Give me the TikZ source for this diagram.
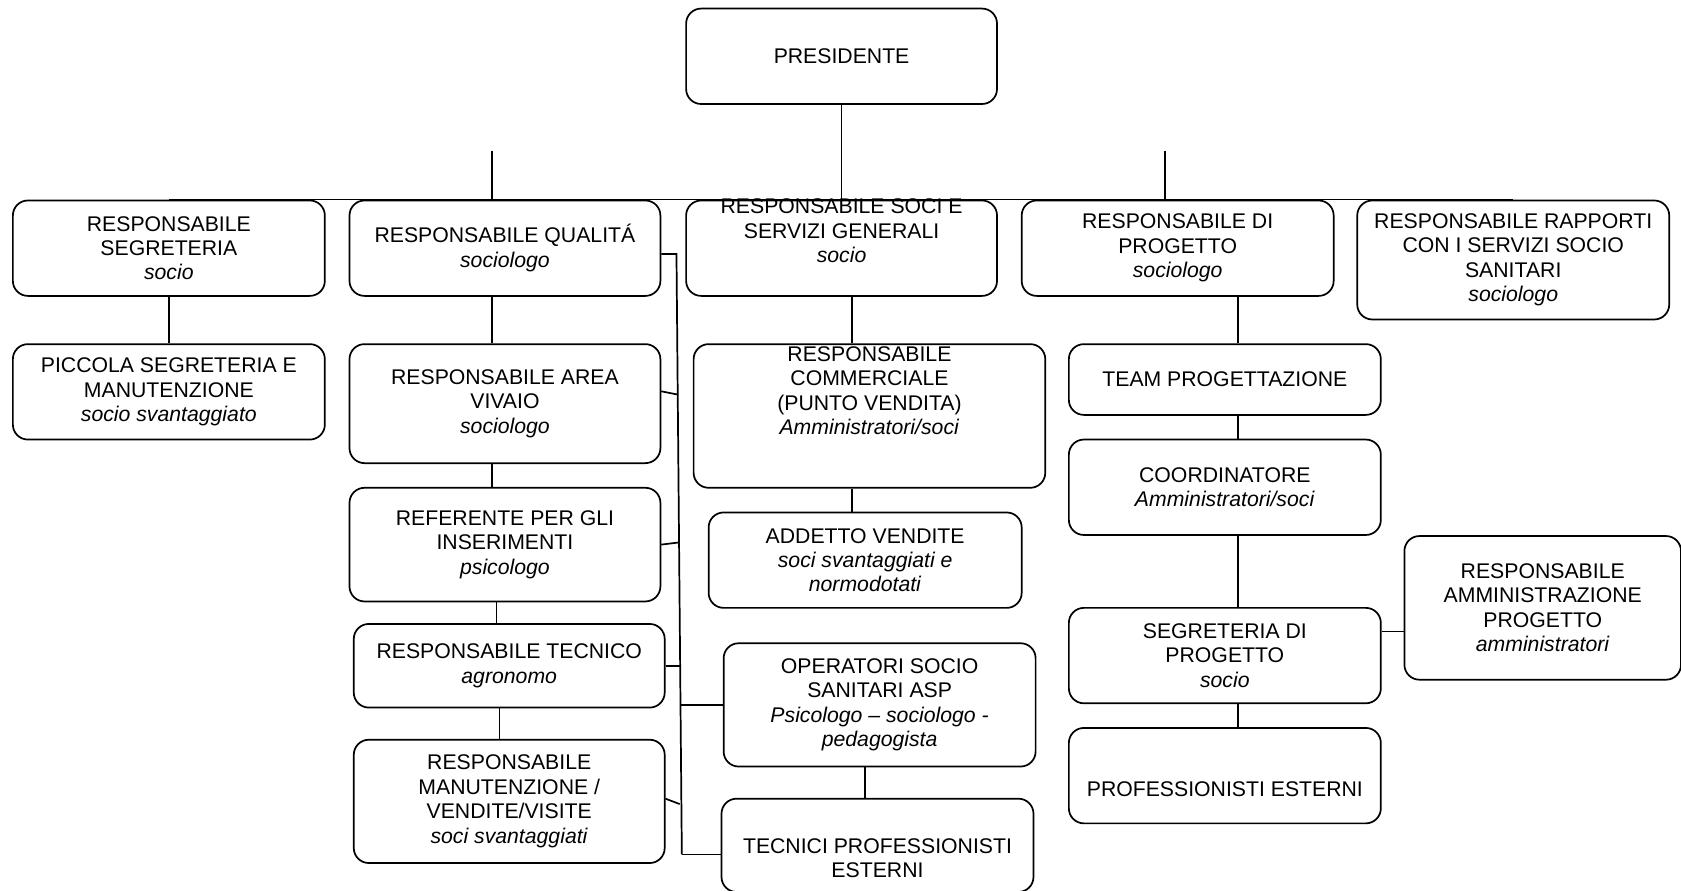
\documentclass[tikz,border=0pt]{standalone}
\usepackage{fontspec}
\setmainfont{Liberation Sans}
\usepackage{tikz}
\newcommand{\orgfont}{\fontsize{9.9pt}{11.4pt}\selectfont}
\tikzset{
  box/.style={draw, rounded corners=7pt, inner sep=0pt, align=center, font=\orgfont},
  txt/.style={inner sep=0pt, align=center, font=\orgfont}
}

\begin{document}
\begin{tikzpicture}[x=0.5pt, y=-0.5pt, line width=0.8pt]
  % margini (y verso il basso)
  \useasboundingbox (0,0) rectangle (1568,831);

  % presidente
  \node[box, minimum width=145pt, minimum height=44.5pt] (pres) at (785,52.5) {PRESIDENTE};

  % prima fila
  \node[box, minimum width=145.5pt, minimum height=44.5pt] (segr) at (157.5,231.5) {RESPONSABILE\\SEGRETERIA\\\textit{socio}};
  \node[box, minimum width=145pt, minimum height=44.5pt] (qual) at (471,231.5) {RESPONSABILE QUALITÁ\\\textit{sociologo}};
  \node[box, minimum width=145pt, minimum height=44.5pt] (soci) at (785,231.5) {};
  \node[txt] (socit) at ([yshift=8pt]soci.center) {RESPONSABILE SOCI E\\SERVIZI GENERALI\\\textit{socio}};
  \node[box, minimum width=145.5pt, minimum height=44.5pt] (prog) at (1098.5,231.5) {RESPONSABILE DI\\PROGETTO\\\textit{sociologo}};
  \node[box, minimum width=145.5pt, minimum height=55.5pt] (rapp) at (1411.5,242.5) {RESPONSABILE RAPPORTI\\CON I SERVIZI SOCIO\\SANITARI\\\textit{sociologo}};

  % colonna segreteria
  \node[box, minimum width=145.5pt, minimum height=44.5pt] (picc) at (157.5,365.5) {PICCOLA SEGRETERIA E\\MANUTENZIONE\\\textit{socio svantaggiato}};

  % colonna qualita
  \node[box, minimum width=145pt, minimum height=55.5pt] (viva) at (471,376.5) {RESPONSABILE AREA\\VIVAIO\\\textit{sociologo}};
  \node[box, minimum width=145pt, minimum height=53pt] (refe) at (471,508) {REFERENTE PER GLI\\INSERIMENTI\\\textit{psicologo}};
  \node[box, minimum width=145pt, minimum height=39pt] (tecn) at (475,621) {RESPONSABILE TECNICO\\\textit{agronomo}};
  \node[box, minimum width=145pt, minimum height=57.5pt] (manu) at (475,747.5) {RESPONSABILE\\MANUTENZIONE /\\VENDITE/VISITE\\\textit{soci svantaggiati}};

  % colonna soci e servizi
  \node[box, minimum width=164pt, minimum height=67pt] (comm) at (811,388) {};
  \node[txt] (commt) at ([yshift=11.75pt]comm.center) {RESPONSABILE\\COMMERCIALE\\(PUNTO VENDITA)\\\textit{Amministratori/soci}};
  \node[box, minimum width=146pt, minimum height=44.5pt] (addv) at (807,522.5) {ADDETTO VENDITE\\\textit{soci svantaggiati e}\\\textit{normodotati}};
  \node[box, minimum width=145.5pt, minimum height=57.5pt] (oper) at (820.5,657.5) {OPERATORI SOCIO\\SANITARI ASP\\\textit{Psicologo – sociologo -}\\\textit{pedagogista}};
  \node[box, minimum width=145.5pt, minimum height=43.5pt] (tecp) at (818.5,788.5) {};
  \node[txt] (tecpt) at ([yshift=-6pt]tecp.center) {TECNICI PROFESSIONISTI\\ESTERNI};

  % colonna progetto
  \node[box, minimum width=145.5pt, minimum height=33pt] (team) at (1142.5,354) {TEAM PROGETTAZIONE};
  \node[box, minimum width=145.5pt, minimum height=44.5pt] (coor) at (1142.5,454.5) {COORDINATORE\\\textit{Amministratori/soci}};
  \node[box, minimum width=145.5pt, minimum height=44.5pt] (segp) at (1142.5,611.5) {SEGRETERIA DI\\PROGETTO\\\textit{socio}};
  \node[box, minimum width=145.5pt, minimum height=44.5pt] (prof) at (1142.5,723.5) {};
  \node[txt] (proft) at ([yshift=-6.25pt]prof.center) {PROFESSIONISTI ESTERNI};
  \node[box, minimum width=129pt, minimum height=67pt] (ammi) at (1439,567) {RESPONSABILE\\AMMINISTRAZIONE\\PROGETTO\\\textit{amministratori}};

  % colonne dei collegamenti
  \coordinate (cq) at (459,0);
  \coordinate (ct) at (463,0);
  \coordinate (cm) at (466,0);
  \coordinate (cs) at (795,0);
  \coordinate (co) at (807,0);
  \coordinate (cp) at (1155,0);
  \coordinate (ca) at (0,589);

  % presidente e linea orizzontale
  \coordinate (sq) at (459,141);
  \coordinate (sp) at (1087,141);
  \draw (pres.south) -- (pres.south |- segr.north);
  \draw (segr.north) -- (rapp.north);
  \draw (sq) -- (sq |- qual.north);
  \draw (sp) -- (sp |- prog.north);

  % collegamenti verticali
  \draw (segr) -- (picc);
  \draw (qual.south -| cq) -- (viva.north -| cq);
  \draw (viva.south -| cq) -- (refe.north -| cq);
  \draw (refe.south -| ct) -- (tecn.north -| ct);
  \draw (tecn.south -| cm) -- (manu.north -| cm);
  \draw (soci.south -| cs) -- (comm.north -| cs);
  \draw (comm.south -| cs) -- (addv.north -| cs);
  \draw (oper.south -| co) -- (tecp.north -| co);
  \draw (prog.south -| cp) -- (team.north -| cp);
  \draw (team.south -| cp) -- (coor.north -| cp);
  \draw (coor.south -| cp) -- (segp.north -| cp);
  \draw (segp.south -| cp) -- (prof.north -| cp);
  \draw (segp.east |- ca) -- (ammi.west |- ca);

  % linea di raccordo verticale
  \coordinate (bt) at (631,237);
  \coordinate (b1) at (632,368);
  \coordinate (b2) at (633,506);
  \coordinate (b3) at (634,621);
  \coordinate (b4) at (634,657.5);
  \coordinate (b5) at (634,750);
  \coordinate (bb) at (636,797);
  \draw (qual.east |- bt) -- (bt) -- (bb);
  \draw ([yshift=5.75pt]viva.east) -- (b1);
  \draw (refe.east) -- (b2);
  \draw (tecn.east) -- (b3);
  \draw (b4) -- (oper.west);
  \draw ([yshift=1.25pt]manu.east) -- (b5);
  \draw (bb) -- (tecp.west |- bb);
\end{tikzpicture}
\end{document}
